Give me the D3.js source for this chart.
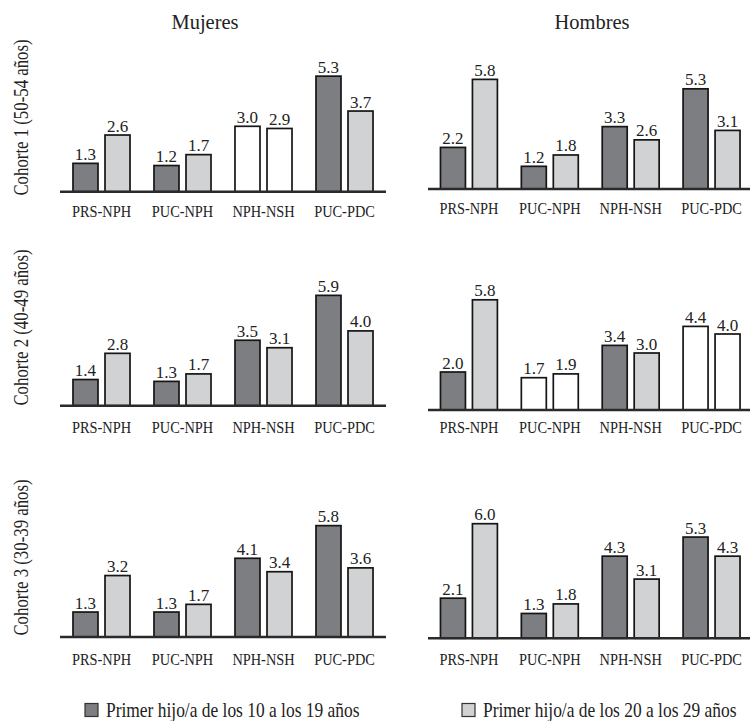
<!DOCTYPE html>
<html>
<head>
<meta charset="utf-8">
<script src="https://cdn.jsdelivr.net/npm/d3@7"></script>
<style>
  html, body { margin: 0; padding: 0; background: #fff; }
  svg { display: block; }
</style>
</head>
<body>
<svg id="chart" width="750" height="721"></svg>
<script>
// ---------------- DATA ----------------
const sexes = ["Mujeres", "Hombres"];
const cohorts = ["Cohorte 1 (50-54 años)", "Cohorte 2 (40-49 años)", "Cohorte 3 (30-39 años)"];
const categories = ["PRS-NPH", "PUC-NPH", "NPH-NSH", "PUC-PDC"];
const seriesNames = ["Primer hijo/a de los 10 a los 19 años", "Primer hijo/a de los 20 a los 29 años"];

// values per cohort (rows) and category (columns)
const mujeres10 = [[1.3, 1.2, 3.0, 5.3], [1.4, 1.3, 3.5, 5.9], [1.3, 1.3, 4.1, 5.8]];
const mujeres20 = [[2.6, 1.7, 2.9, 3.7], [2.8, 1.7, 3.1, 4.0], [3.2, 1.7, 3.4, 3.6]];
const hombres10 = [[2.2, 1.2, 3.3, 5.3], [2.0, 1.7, 3.4, 4.4], [2.1, 1.3, 4.3, 5.3]];
const hombres20 = [[5.8, 1.8, 2.6, 3.1], [5.8, 1.9, 3.0, 4.0], [6.0, 1.8, 3.1, 4.3]];
// pairs drawn in white (no significant difference)
const mujeresNS = [[0, 0, 1, 0], [0, 0, 0, 0], [0, 0, 0, 0]];
const hombresNS = [[0, 0, 0, 0], [0, 1, 0, 1], [0, 0, 0, 0]];

// ---------------- LAYOUT / STYLE ----------------
const layout = {
  colRange: [[61, 385], [428.5, 752]],
  axisExtent: [[60, 386], [428, 750]],
  base: [[191.7, 189], [405.7, 410], [637, 638.3]],
  ppu: [[21.8, 18.9], [18.7, 19.0], [19.2, 19.1]],
  labelY: [[216.5, 213.5], [433, 432.5], [665, 665]],
  ylabelCY: [117.5, 327.5, 557.5],
  titleX: [205, 592]
};
const colors = { dark: "#7d7e82", light: "#d1d2d4", ns: "#ffffff", stroke: "#151515" };
const FONT = "'Liberation Serif', 'Times New Roman', Times, 'DejaVu Serif', serif";

const svg = d3.select("#chart").attr("font-family", FONT);
svg.append("rect").attr("width", 750).attr("height", 721).attr("fill", "#fff");

function condText(sel, x, y, str, size, sx, anchor, rot) {
  return sel.append("text")
    .attr("transform", `translate(${x},${y})${rot ? ` rotate(${rot})` : ""} scale(${sx},1)`)
    .attr("text-anchor", anchor || "middle")
    .attr("font-family", FONT)
    .attr("font-size", size)
    .attr("fill", "#222")
    .text(str);
}

// Column titles
sexes.forEach((s, ci) => condText(svg, layout.titleX[ci], 29, s, 22, 0.93, "middle"));

// Row labels
cohorts.forEach((c, ri) => condText(svg, 28, layout.ylabelCY[ri], c, 21, 0.8, "middle", -90));

const data10 = [mujeres10, hombres10];
const data20 = [mujeres20, hombres20];
const dataNS = [mujeresNS, hombresNS];

cohorts.forEach((c, ri) => {
  sexes.forEach((s, ci) => {
    const base = layout.base[ri][ci];
    const ppu = layout.ppu[ri][ci];
    const y = d3.scaleLinear().domain([0, 6]).range([base, base - 6 * ppu]);
    const x0 = d3.scaleBand().domain(categories).range(layout.colRange[ci])
      .paddingInner(0.296).paddingOuter(0.148);
    const x1 = d3.scaleBand().domain([0, 1]).range([0, x0.bandwidth()]).paddingInner(0.219);

    const g = svg.append("g");
    const rows = categories.map((cat, k) => ({
      cat,
      vals: [data10[ci][ri][k], data20[ci][ri][k]],
      ns: dataNS[ci][ri][k]
    }));

    const grp = g.selectAll("g.grp").data(rows).join("g")
      .attr("class", "grp")
      .attr("transform", d => `translate(${x0(d.cat)},0)`);

    grp.selectAll("rect").data(d => d.vals.map((v, i) => ({ v, i, ns: d.ns }))).join("rect")
      .attr("x", d => x1(d.i))
      .attr("width", x1.bandwidth())
      .attr("y", d => y(d.v))
      .attr("height", d => y(0) - y(d.v))
      .attr("fill", d => d.ns ? colors.ns : (d.i === 0 ? colors.dark : colors.light))
      .attr("stroke", colors.stroke)
      .attr("stroke-width", 1.7);

    grp.selectAll("text.val").data(d => d.vals.map((v, i) => ({ v, i }))).join("text")
      .attr("class", "val")
      .attr("x", d => x1(d.i) + x1.bandwidth() / 2)
      .attr("y", d => y(d.v) - 3.5)
      .attr("text-anchor", "middle")
      .attr("font-family", FONT)
      .attr("font-size", 17)
      .attr("fill", "#222")
      .text(d => d3.format(".1f")(d.v));

    // baseline axis
    const ax = layout.axisExtent[ci];
    g.append("line")
      .attr("x1", ax[0]).attr("x2", ax[1])
      .attr("y1", base).attr("y2", base)
      .attr("stroke", "#2a2a2a").attr("stroke-width", 2.6);

    // category labels via axis
    const axisG = g.append("g")
      .attr("transform", `translate(0,${layout.labelY[ri][ci]})`)
      .call(d3.axisBottom(x0).tickSize(0).tickPadding(0));
    axisG.attr("font-family", FONT).attr("font-size", 17);
    axisG.select(".domain").remove();
    axisG.selectAll(".tick text")
      .attr("y", 0).attr("dy", 0)
      .attr("transform", "scale(0.845,1)")
      .attr("font-family", FONT)
      .attr("font-size", 17)
      .attr("fill", "#222");
  });
});

// Legend
const legend = [
  { name: seriesNames[0], fill: colors.dark, x: 85 },
  { name: seriesNames[1], fill: colors.light, x: 462 }
];
const lg = svg.append("g");
lg.selectAll("rect").data(legend).join("rect")
  .attr("x", d => d.x).attr("y", 703.5)
  .attr("width", 13).attr("height", 13)
  .attr("fill", d => d.fill)
  .attr("stroke", "#333").attr("stroke-width", 1.2);
legend.forEach(d => condText(lg, d.x + 21, 716.5, d.name, 21, 0.83, "start"));
</script>
</body>
</html>
